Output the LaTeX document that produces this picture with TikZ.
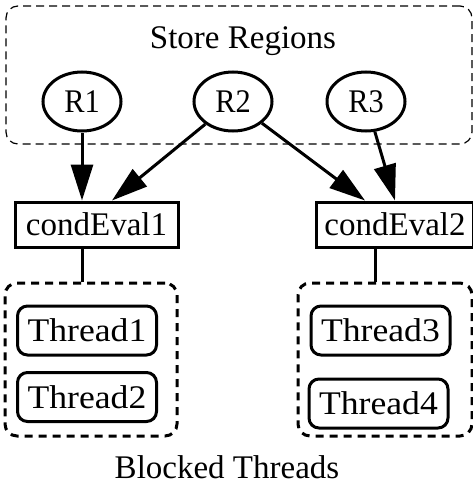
\documentclass[tikz,border=0pt]{standalone}
\usepackage{fontspec}
\setmainfont{Liberation Serif}
\newfontfamily\widefont[FakeStretch=1.08]{Liberation Serif}
\newfontfamily\narrowfont[FakeStretch=0.92]{Liberation Serif}
\usetikzlibrary{arrows.meta,shapes.geometric,calc}
\begin{document}
\begin{tikzpicture}[x=1pt,y=-1pt,
  every node/.style={font=\fontsize{33}{38}\selectfont, inner sep=0pt},
  region/.style={ellipse, draw, line width=3pt, minimum width=78pt, minimum height=59pt, font=\narrowfont\fontsize{33}{38}\selectfont},
  cond/.style={rectangle, draw, line width=3pt, minimum height=45pt},
  thread/.style={rectangle, rounded corners=10pt, draw, line width=3pt, minimum width=139pt, minimum height=49pt, font=\widefont\fontsize{33}{38}\selectfont},
  cluster/.style={rectangle, rounded corners=12pt, draw, line width=3pt, dash pattern=on 8pt off 6pt},
  topbox/.style={rectangle, rounded corners=12pt, draw, line width=1.2pt, dash pattern=on 8pt off 5pt},
  arr/.style={line width=3pt, -{Triangle[length=36pt,width=22pt]}},
  link/.style={line width=3pt}]
\useasboundingbox (0,0) rectangle (473,487);
% store regions box
\node[topbox, minimum width=466pt, minimum height=138pt] (top) at (239,75) {};
\node (storelbl) at (243,41) {Store Regions};
\node[region] (R1) at (82,101.5) {R1};
\node[region] (R2) at (233,101.5) {R2};
\node[region] (R3) at (366,101.5) {R3};
% condition evaluators
\node[cond, minimum width=163pt] (c1) at (96.5,224.5) {condEval1};
\node[cond, minimum width=157pt] (c2) at (395,224.5) {condEval2};
% clusters
\node[cluster, minimum width=172pt, minimum height=153pt] (k1) at (91,359.5) {};
\node[cluster, minimum width=174pt, minimum height=153pt] (k2) at (385,359.5) {};
\node[thread] (t1) at (87,330.5) {Thread1};
\node[thread] (t2) at (87,397) {Thread2};
\node[thread] (t3) at (380.5,330.5) {Thread3};
\node[thread] (t4) at (378.5,403.5) {Thread4};
\node (blocked) at (227,467) {Blocked Threads};
% arrows
\draw[arr] (R1) -- (R1 |- c1.north);
\draw[arr] (R2) -- ($(c1.north)+(15.5,0)$);
\draw[arr] (R2) -- ($(c2.north)+(-30,0)$);
\draw[arr] (R3) -- (c2.north);
\draw[link] (c1.south -| R1) -- (k1.north -| R1);
\draw[link] ($(c2.south)+(-20,0)$) -- ($(c2.south |- k2.north)+(-20,0)$);
\end{tikzpicture}
\end{document}
